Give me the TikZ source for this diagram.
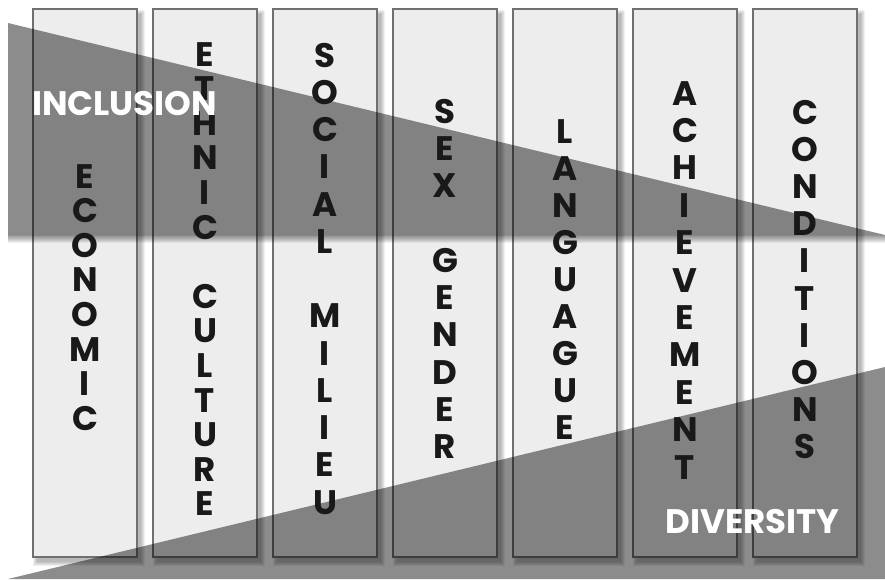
\documentclass[tikz,border=0pt]{standalone}
\usepackage{fontspec}
\setmainfont{Poppins}
\usetikzlibrary{positioning}

\definecolor{colfill}{HTML}{EDEDED}
\definecolor{colline}{HTML}{707070}
\tikzset{
  column/.style={fill=colfill, draw=colline, line width=2pt},
  band/.style={fill=black, fill opacity=0.45},
  blur/.style={fill=black, opacity=0.06},
  letter/.style={font=\fontsize{34}{40}\selectfont\bfseries, text=black!90, anchor=base, inner sep=0pt},
  bigword/.style={font=\fontsize{34}{40}\selectfont\bfseries, text=white, inner sep=0pt}
}

\begin{document}
\begin{tikzpicture}[x=1pt, y=-1pt]
    \useasboundingbox (0,0) rectangle (885,579);
    \fill[white] (0,0) rectangle (885,579);

    % Columns with a soft shadow
    \foreach \i in {0,...,6}{
        \foreach \b in {0,...,4}
            \fill[blur] (33+120*\i+4-\b, 9+5-\b) rectangle (137+120*\i+4+\b, 557+5+\b);
        \draw[column] (33+120*\i, 9) rectangle (137+120*\i, 557);
    }

    % Shadow under the inclusion band
    \foreach \b in {1,...,8}
        \fill[blur] (8,235) rectangle (885,235+\b);

    % Bands
    \fill[band] (8,23) -- (885,235) -- (8,235) -- cycle;
    \fill[band] (8,579) -- (885,367) -- (885,579) -- cycle;

    % Letters, one per line
    \foreach \cx/\ytop/\pitch/\word [count=\c] in {
        85/176/34.6/{E,C,O,N,O,M,I,C},
        205/54/34.6/{E,T,H,N,I,C,{},C,U,L,T,U,R,E},
        325/55/37.25/{S,O,C,I,A,L,{},M,I,L,I,E,U},
        445/111/37.3/{S,E,X,{},G,E,N,D,E,R},
        565/131/37.1/{L,A,N,G,U,A,G,U,E},
        685/93/37.4/{A,C,H,I,E,V,E,M,E,N,T},
        805/112/37.2/{C,O,N,D,I,T,I,O,N,S}}{
        \foreach \l [count=\k from 0] in \word
            \node[letter] (l\c-\k) at (\cx, \ytop+12+\k*\pitch) {\l};
    }

    % Band labels
    \node[bigword, anchor=base west] (inclusion) at (32,115) {INCLUSION};
    \node[bigword, anchor=base east] (diversity) at (840,533) {DIVERSITY};

\end{tikzpicture}
\end{document}
